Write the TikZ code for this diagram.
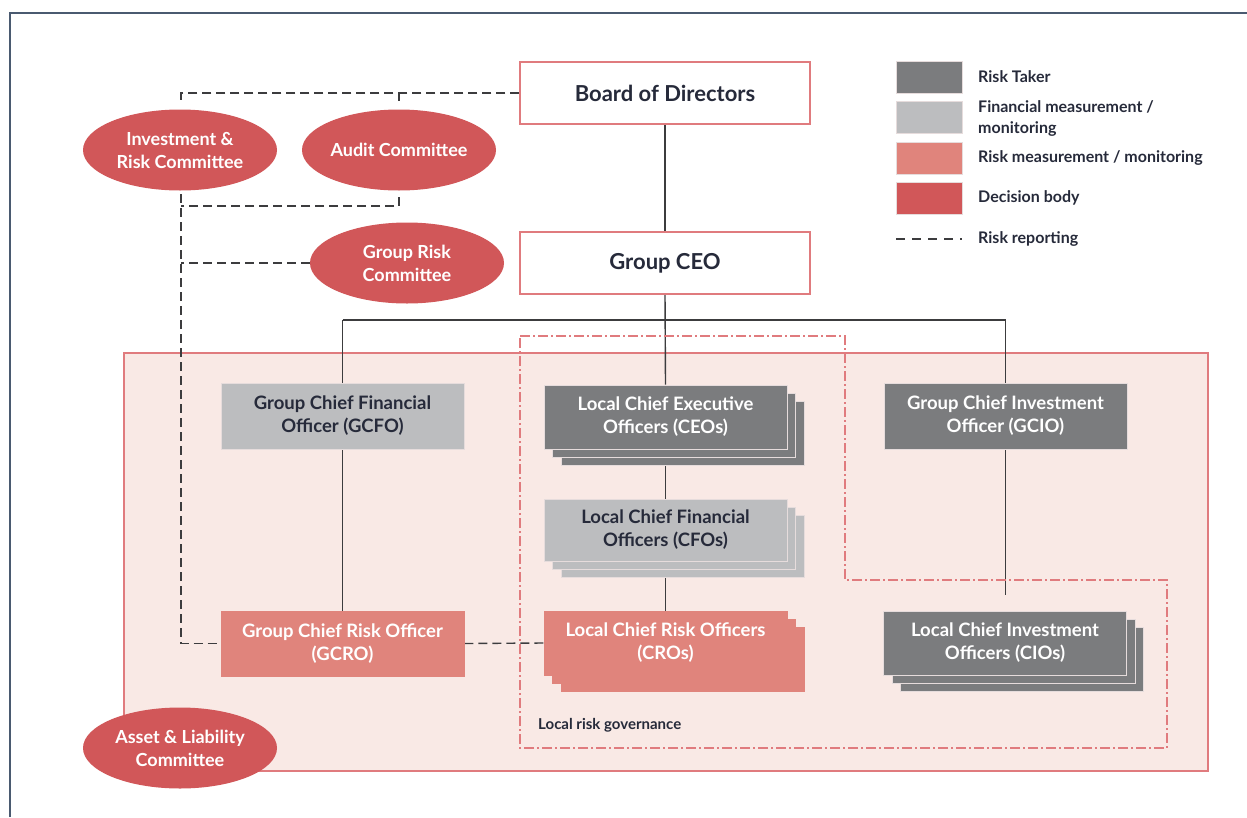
\documentclass[tikz,border=0pt]{standalone}
\usepackage{fontspec}
\setmainfont{Lato}
\usetikzlibrary{shapes.geometric,shadows,backgrounds}
\definecolor{takerc}{HTML}{7B7C7E}
\definecolor{finc}{HTML}{BCBDBF}
\definecolor{riskc}{HTML}{E0847C}
\definecolor{decc}{HTML}{D15759}
\definecolor{pinkc}{HTML}{F9E9E5}
\definecolor{redl}{HTML}{E07B7E}
\definecolor{txtc}{HTML}{262A3A}
\definecolor{linec}{HTML}{3C3C3E}
\definecolor{framec}{HTML}{4A5A70}
\definecolor{edgec}{HTML}{E6DCDC}
\begin{document}
\begin{tikzpicture}[x=1pt,y=-1pt,
  topbox/.style={draw=redl,line width=1.3pt,fill=white,minimum width=290pt,minimum height=62pt,inner sep=0pt,text=txtc,font=\bfseries\fontsize{22}{26}\selectfont},
  orgbox/.style={draw=edgec,line width=0.8pt,minimum width=243pt,minimum height=65pt,inner sep=0pt,align=center,font=\bfseries\fontsize{18.5}{23}\selectfont},
  takerbox/.style={orgbox,fill=takerc,text=white},
  finbox/.style={orgbox,fill=finc,text=txtc},
  riskbox/.style={orgbox,fill=riskc,text=white,draw=riskc},
  stackbox/.style={double copy shadow={shadow xshift=8.5pt,shadow yshift=-8pt}},
  ell/.style={ellipse,fill=decc,minimum width=194pt,minimum height=81pt,inner sep=0pt,align=center,text=white,font=\bfseries\fontsize{18}{23}\selectfont},
  conn/.style={draw=linec,line width=1.4pt},
  rep/.style={draw=linec,line width=1.4pt,dash pattern=on 9pt off 5pt},
  legsq/.style={minimum width=66pt,minimum height=32pt,inner sep=0pt,draw=edgec,line width=0.6pt},
  legtxt/.style={anchor=west,inner sep=0pt,align=left,text=txtc,font=\bfseries\fontsize{16}{21}\selectfont}
]
\useasboundingbox (0,0) rectangle (1247,817);
% frame
\draw[framec,line width=1.2pt] (10,817) -- (10,13) -- (1247,13);

% top nodes
\node[topbox] (board) at (665,93) {Board of Directors};
\node[topbox] (ceo) at (665,263) {Group CEO};

% committees
\node[ell] (irc) at (180,150) {Investment \&\\Risk Committee};
\node[ell] (audit) at (399,150) {Audit Committee};
\node[ell] (grc) at (407,263) {Group Risk\\Committee};

% org boxes
\node[finbox,minimum height=66pt] (gcfo) at (342.5,416) {Group Chief Financial\\Officer (GCFO)};
\node[riskbox] (gcro) at (342.5,643.5) {Group Chief Risk Officer\\(GCRO)};
\node[takerbox,stackbox,minimum height=64pt] (lceo) at (665.5,417) {Local Chief Executive\\Officers (CEOs)};
\node[finbox,stackbox,minimum height=62pt] (lcfo) at (665.5,530) {Local Chief Financial\\Officers (CFOs)};
\node[riskbox,stackbox,minimum height=64pt] (lcro) at (665.5,643) {Local Chief Risk Officers\\(CROs)};
\node[takerbox,minimum height=66pt] (gcio) at (1005.5,416) {Group Chief Investment\\Officer (GCIO)};
\node[takerbox,stackbox,minimum height=64pt] (lcio) at (1005,643) {Local Chief Investment\\Officers (CIOs)};

\node[ell] (alco) at (180,748) {Asset \& Liability\\Committee};

% coordinates
\coordinate (busl) at (342.5,320);
\coordinate (busr) at (1005.5,320);
\coordinate (busm) at (665.5,320);
\coordinate (cioend) at (1005.5,595);
\coordinate (ta) at (181,93);
\coordinate (tat) at (181,101);
\coordinate (tb) at (399,93);
\coordinate (tbt) at (399,101);
\coordinate (ba) at (181,206);
\coordinate (bat) at (181,194);
\coordinate (bb) at (399,206);
\coordinate (bbt) at (399,197);
\coordinate (gl) at (181,263);
\coordinate (crl) at (181,643.5);

\begin{scope}[on background layer]
  \draw[redl,line width=1.3pt,fill=pinkc] (124,353) rectangle (1208,771);
  \draw[conn] (board.south) -- (ceo.north);
  \draw[conn] (ceo.south) -- (lceo.north);
  \draw[conn] (busl) -- (busr);
  \draw[conn] (busl) -- (gcfo.north);
  \draw[conn] (busr) -- (gcio.north);
  \draw[conn] (gcfo.south) -- (gcro.north);
  \draw[conn] (lceo.south) -- (lcfo.north);
  \draw[conn] (lcfo.south) -- (lcro.north);
  \draw[conn] (gcio.south) -- (cioend);
  % risk reporting
  \draw[rep] (board.west) -- (ta) -- (tat);
  \draw[rep] (tb) -- (tbt);
  \draw[rep] (bbt) -- (bb) -- (ba);
  \draw[rep] (bat) -- (crl) -- (gcro.west);
  \draw[rep] (grc.west) -- (gl);
  \draw[rep] (gcro.east) -- (lcro.west);
  % local risk governance
  \draw[redl,line width=1.2pt,dash pattern=on 10pt off 3pt on 2pt off 3pt]
    (520,336) -| (845,580) -| (1167,748) -- (520,748) -- cycle;
\end{scope}
\node[legtxt,font=\bfseries\fontsize{15}{18}\selectfont] (lrg) at (538,725) {Local risk governance};

% legend
\node[legsq,fill=takerc] (l1) at (929,77) {};
\node[legsq,fill=finc] (l2) at (929,117) {};
\node[legsq,fill=riskc] (l3) at (929,158) {};
\node[legsq,fill=decc] (l4) at (929,198) {};
\coordinate (l5a) at (896,239);
\coordinate (l5b) at (962,239);
\draw[rep,line width=1.2pt,dash pattern=on 9pt off 7pt] (l5a) -- (l5b);
\node[legtxt] (t1) at (978,77) {Risk Taker};
\node[legtxt] (t2) at (978,118) {Financial measurement /\\monitoring};
\node[legtxt] (t3) at (978,158) {Risk measurement / monitoring};
\node[legtxt] (t4) at (978,198) {Decision body};
\node[legtxt] (t5) at (978,239) {Risk reporting};
\end{tikzpicture}
\end{document}
